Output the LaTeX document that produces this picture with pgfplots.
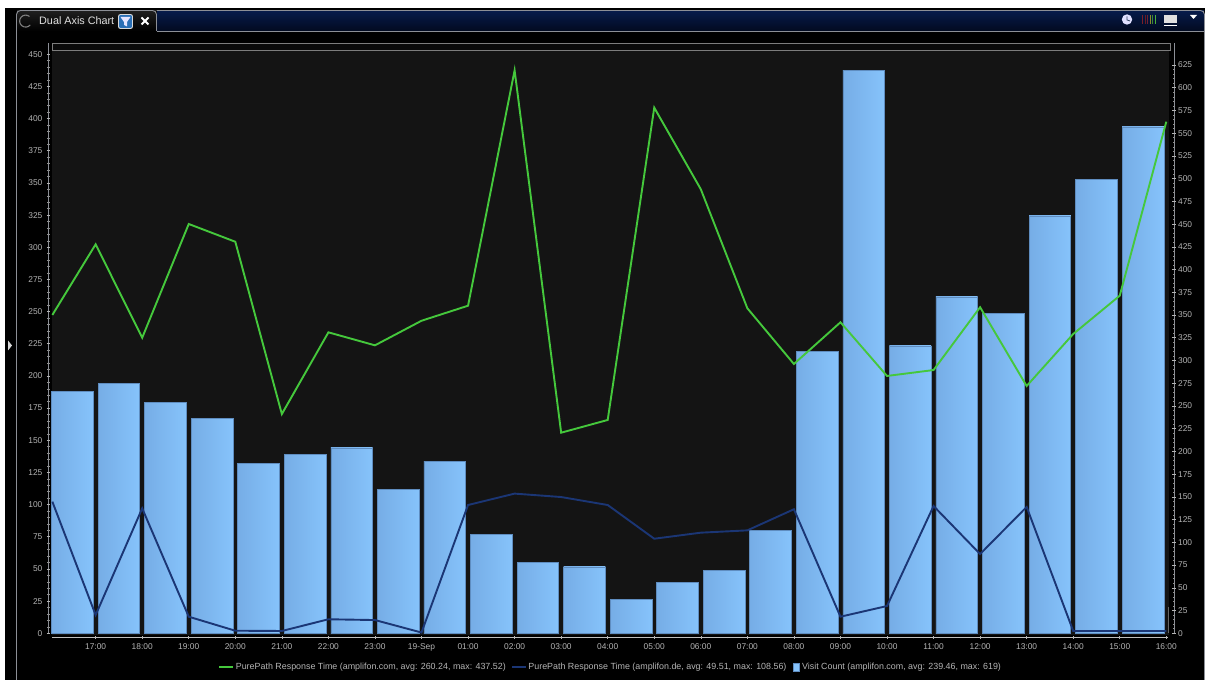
\documentclass[border=0pt]{standalone}
\usepackage{pgfplots}
\usepackage{pgfplotstable}
\usepackage{fontspec}
\setmainfont{Liberation Sans}
\pgfplotsset{compat=1.18}

\definecolor{panelbg}{HTML}{000000}
\definecolor{plotbg}{HTML}{141414}
\definecolor{framegrey}{HTML}{8C8F96}
\definecolor{ticktext}{HTML}{B4B4B4}
\definecolor{comline}{HTML}{45C83C}
\definecolor{deline}{HTML}{1B3675}
\definecolor{barleft}{HTML}{76ADE6}
\definecolor{barright}{HTML}{86C3FB}
\definecolor{baredge}{HTML}{5F8DC0}
\definecolor{tabtop}{HTML}{061B4A}
\definecolor{tabbottom}{HTML}{020A20}
\definecolor{filterblue}{HTML}{2A6FB5}
\definecolor{clockhand}{HTML}{31445F}
\definecolor{stripeA}{HTML}{7A1F2A}
\definecolor{stripeB}{HTML}{6A1A24}
\definecolor{stripeC}{HTML}{702030}
\definecolor{stripeD}{HTML}{8A8A30}
\definecolor{stripeE}{HTML}{3C8A30}
\definecolor{stripeF}{HTML}{4CB03A}
\definecolor{rangefill}{HTML}{0A0A0A}
\definecolor{rangeedge}{HTML}{7D7D7D}
\definecolor{scrollgrey}{HTML}{666666}

% Hourly response times (ms) per domain; hour 0 is 16:00 on the previous day
\pgfplotstableread{
hour  com     de
0.07  247.4   102.3
1     302.3   14.2
2     229.7   97.1
3     318.1   12.9
4     304.3   2.0
5     170.4   1.8
6     233.9   10.9
7     223.8   10.3
8     242.9   0.6
9     254.6   99.7
10    437.52  108.56
11    155.9   105.9
12    165.8   99.7
13    408.5   73.5
14    345.1   78.2
15    252.6   80.0
16    209.3   96.4
17    241.7   12.9
18    200.0   21.2
19    204.6   98.9
20    253.4   61.6
21    192.2   98.2
22    232.6   1.8
23    262.4   1.8
24    397.6   1.8
}\responsetimes

% Visits per hour, plotted in the middle of each hour
\pgfplotstableread{
slot  visits
0.5   266
1.5   275
2.5   254
3.5   236
4.5   187
5.5   197
6.5   204
7.5   158
8.5   189
9.5   109
10.5  78
11.5  73
12.5  37
13.5  56
14.5  69
15.5  113
16.5  310
17.5  619
18.5  316
19.5  370
20.5  352
21.5  459
22.5  499
23.5  557
}\visits

\pgfplotsset{
  panelaxis/.style={
    at={(48.5pt,42.7pt)}, anchor=south west,
    scale only axis, width=1125.5pt, height=594.3pt,
    xmin=-0.0129, xmax=24.165,
    axis line style={draw=none,-},
    tick align=outside,
    major tick length=3.6pt, minor tick length=2.2pt,
    every tick/.style={draw=ticktext,line width=0.6pt},
    every minor tick/.style={draw=ticktext!80!black,line width=0.6pt},
    tick label style={font=\fontsize{8.4}{10}\selectfont,text=ticktext},
    /pgf/number format/assume math mode=true,
    /pgf/number format/fixed,
    minor y tick num=4,
  },
}

\begin{document}
\begin{tikzpicture}
\useasboundingbox (0,0) rectangle (1207pt,680pt);
\fill[white] (0,0) rectangle (1207pt,680pt);

% Window chrome, in screen coordinates with y running downwards
\begin{scope}[x=1pt,y=-1pt,yshift=680pt]
  \fill[panelbg] (5,8) rectangle (1205,680);
  \shade[top color=tabtop,bottom color=tabbottom] (157,11) rectangle (1204,31);
  \shade[top color=black!88!white,bottom color=black] (17,11) rectangle (156,31);
  \draw[framegrey,line width=0.9pt,rounded corners=4pt]
    (16.5,40) -- (16.5,10.5) -- (156.5,10.5) -- (156.5,31);
  \draw[framegrey,line width=0.9pt] (156.5,31) -- (1204.5,31);
  \draw[framegrey,line width=0.9pt,rounded corners=4pt]
    (156.5,10.5) -- (1204.5,10.5) -- (1204.5,40);
  \draw[framegrey,line width=0.9pt] (16.5,31) -- (16.5,680) (1204.5,31) -- (1204.5,680);

  % Tab: spinner, caption, filter button and close cross
  \draw[gray,line width=1.1pt] (29.5,16.5) arc[start angle=-50,end angle=-320,radius=6];
  \node[anchor=west,inner sep=0,text=white!88!black,font=\fontsize{10.8}{12}\selectfont] at (39,21) {Dual Axis Chart};
  \fill[filterblue,draw=white!85!black,line width=0.9pt,rounded corners=2pt] (118.5,14.5) rectangle (132.5,28.5);
  \fill[white!90!blue] (120.5,17) -- (130.5,17) -- (127,22) -- (127,26.5) -- (124,25) -- (124,22) -- cycle;
  \draw[white,line width=2pt] (141.5,17.5) -- (148.5,24.5) (148.5,17.5) -- (141.5,24.5);

  % Toolbar icons on the right of the tab bar
  \fill[white!88!blue] (1127,19.5) circle (5.2);
  \draw[clockhand,line width=0.8pt] (1127,16.5) -- (1127,20) -- (1130,21);
  \foreach \px/\col in {1142/stripeA,1144.5/stripeB,1147/stripeC,1149.5/stripeD,1152/stripeE,1154.5/stripeF}
    \fill[\col] (\px,15.5) rectangle ++(1.4,8.5);
  \fill[white!88!black] (1164,15.5) rectangle (1177,23);
  \draw[white,line width=0.8pt] (1164,25.5) -- (1177,25.5);
  \fill[white] (1190,15) -- (1197,15) -- (1193.5,19) -- cycle;

  % Collapse handle on the left edge
  \fill[white!85!black] (8,340.5) -- (12,345.5) -- (8,350.5) -- cycle;

  % Plot background and the range bar over it
  \fill[plotbg] (52,50) rectangle (1168.5,635);
  \fill[rangefill] (52.5,43) rectangle (1170,50);
  \draw[rangeedge,line width=0.9pt] (52.5,43) rectangle (1170,50);

  % Axis spines
  \draw[framegrey,line width=0.8pt] (48.5,43) -- (48.5,634);
  \draw[framegrey,line width=0.8pt] (1174,43) -- (1174,634);
  \draw[white!75!black,line width=0.9pt] (52,637.3) -- (1168,637.3);
  \draw[scrollgrey,line width=1pt] (1168.3,607) -- (1168.3,633);
\end{scope}

% Visit count on the right-hand axis, drawn beneath the lines;
% one plot per hour so that every bar carries its own gradient
\begin{axis}[
  panelaxis,
  axis x line=none,
  axis y line=right,
  ymin=-4.399, ymax=649.2,
  ytick={0,25,...,625},
  yticklabel style={anchor=west,xshift=-1.2pt},
]
\pgfplotsinvokeforeach{0,...,23}{
  \addplot[ybar,bar width=41.7pt,bar shift=0pt,draw=none,
           left color=barleft,right color=barright,
           restrict x to domain=#1.1:#1.9]
    table[x=slot,y=visits] {\visits};
}
\addplot[ybar,bar width=41.7pt,bar shift=0pt,fill=none,draw=baredge,line width=0.6pt]
  table[x=slot,y=visits] {\visits};
\end{axis}

% Response times on the left-hand axis
\begin{axis}[
  panelaxis,
  axis x line=bottom,
  axis y line=left,
  ymin=-3.109, ymax=458.77,
  ytick={0,25,...,450},
  yticklabel style={anchor=east,xshift=-0.8pt},
  xtick={1,...,24},
  xticklabels={17:00,18:00,19:00,20:00,21:00,22:00,23:00,19-Sep,01:00,02:00,03:00,04:00,05:00,06:00,07:00,08:00,09:00,10:00,11:00,12:00,13:00,14:00,15:00,16:00},
  xticklabel style={yshift=-0.6pt},
  legend columns=3,
  legend cell align=left,
  legend image code/.code={\draw[#1] (0pt,0pt) -- (14pt,0pt);},
  legend style={
    at={(0.4993,-0.0495)},anchor=center,
    draw=none,fill=none,inner sep=0pt,
    font=\fontsize{8.9}{10}\selectfont,text=ticktext,
    nodes={inner sep=1.6pt},
    /tikz/every even column/.style={column sep=3.5pt},
  },
]
\addplot[comline,line width=1.9pt,line join=miter] table[x=hour,y=com] {\responsetimes};
\addlegendentry{PurePath Response Time (amplifon.com, avg: 260.24, max: 437.52)}
\addplot[deline,line width=1.9pt,line join=miter] table[x=hour,y=de] {\responsetimes};
\addlegendentry{PurePath Response Time (amplifon.de, avg: 49.51, max: 108.56)}
\addlegendimage{legend image code/.code={\path (6.5pt,0pt) -- (15pt,0pt);\fill[barright,draw=baredge,line width=0.4pt] (8pt,-4pt) rectangle (13.5pt,4pt);}}
\addlegendentry{Visit Count (amplifon.com, avg: 239.46, max: 619)}
\end{axis}
\end{tikzpicture}
\end{document}
